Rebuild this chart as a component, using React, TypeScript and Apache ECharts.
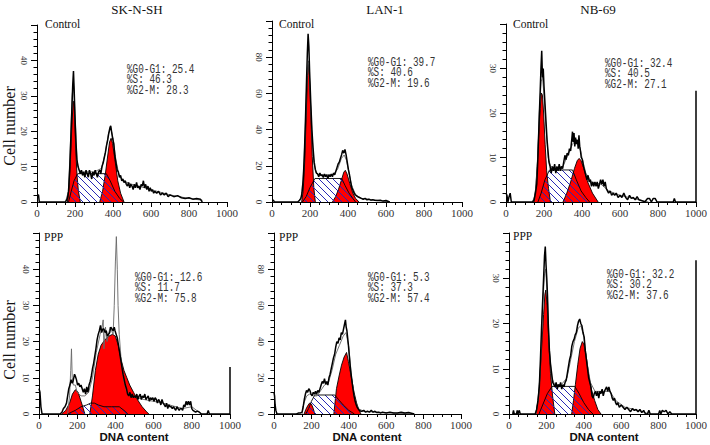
import React, { useEffect, useRef } from 'react';
import * as echarts from 'echarts';

// ---------- labels ----------
const cellLines = ['SK-N-SH', 'LAN-1', 'NB-69'];
const treatments = ['Control', 'PPP'];
const pctG0G1 = ['25.4', '39.7', '32.4', '12.6', '5.3', '32.2'];
const pctS = ['46.3', '40.6', '40.5', '11.7', '37.3', '30.2'];
const pctG2M = ['28.3', '19.6', '27.1', '75.8', '57.4', '37.6'];
const yMax = [50, 100, 40, 50, 100, 40];
const yStep = [10, 20, 10, 10, 20, 10];
const xMax = 1000;
const xStep = 200;

// ---------- panel 1: SK-N-SH control ----------
const rawP1 = [[0,2],[8,2],[12,0],[150,0],[160,1],[166,3],[172,9],[178,18],[184,27],[188,33],[192,37],[196,31],[200,24],[205,17],[210,12],[216,10],[222,9],[228,8],[234,9],[240,7.5],[246,8.5],[252,7],[258,9],[264,8],[270,7],[276,9],[282,8],[288,6.5],[294,8.5],[300,7.5],[306,9],[312,8],[318,7],[324,8.5],[330,9],[336,8],[342,10],[348,11],[354,12.5],[360,14],[366,16],[372,17.5],[378,19.5],[384,21],[388,21.5],[392,20],[398,18],[404,16.5],[410,13],[416,11],[422,9],[428,8.5],[434,7],[440,7.5],[446,6],[452,6.5],[458,5.5],[464,6],[470,5],[476,4.5],[482,5.5],[488,4],[494,5],[500,4.5],[506,3.5],[512,5],[518,4],[524,5.5],[530,4],[536,4.5],[542,3.5],[548,5],[554,4.5],[560,6],[566,4],[572,5],[578,3.5],[584,4.5],[590,3],[596,4],[602,3],[608,3.5],[614,2.5],[620,3],[630,2.5],[640,3],[650,2],[660,2.5],[670,2],[680,2.5],[690,1.5],[700,2],[720,1.5],[740,1.8],[760,1.2],[780,1],[800,1.2],[820,0.8],[840,1],[860,0.8],[870,0]];
const thinP1 = [[150,0],[165,3],[175,15],[185,30],[192,34],[200,25],[210,12],[220,9],[240,8.5],[300,8.5],[340,9.5],[360,14],[375,19],[388,21],[400,18],[415,12],[430,8],[450,6],[500,5],[600,3.5],[700,2],[800,1],[870,0.5]];
const g1P1 = [[160,0],[168,4],[176,12],[184,22],[190,28],[194,28.5],[198,24],[204,15],[210,8],[218,3],[228,0]];
const g2P1 = [[330,0],[345,3],[360,8],[372,13],[382,17],[390,18],[398,16.5],[410,12],[425,6],[440,2.5],[458,0]];
const sP1 = [[166,0],[180,3],[195,6],[214,8],[365,8],[385,6],[410,3],[435,1],[456,0]];

// ---------- panel 2: LAN-1 control ----------
const rawP2 = [[0,1],[8,1],[12,0],[135,0],[145,1],[152,2],[158,5],[164,12],[170,25],[176,45],[182,68],[186,82],[190,93],[194,86],[198,72],[204,55],[210,40],[216,30],[222,22],[228,18],[234,16],[240,15.5],[246,14],[252,16],[258,14.5],[264,15],[270,13.5],[276,15.5],[282,14],[288,15],[294,13],[300,15],[306,14],[312,15.5],[318,14],[324,16],[330,15],[336,17],[342,19],[348,21],[354,22],[360,24],[366,26],[372,28.5],[378,27],[384,29],[390,26],[396,22],[402,18],[408,15],[414,11],[420,8],[426,6.5],[432,5],[438,4],[444,3.5],[450,3],[460,2.5],[470,2],[480,1.5],[490,2],[500,1.2],[510,1.5],[520,1],[530,1.2],[540,1],[555,0.8],[570,1],[585,0.5],[600,0.8],[620,0]];
const thinP2 = [[140,0],[155,3],[165,15],[175,40],[185,72],[192,78],[200,62],[210,38],[220,22],[232,16],[250,15],[320,15],[345,18],[365,24],[380,26],[392,23],[405,16],[420,9],[440,4],[470,2],[550,1],[620,0]];
const g1P2 = [[156,0],[164,6],[172,22],[180,48],[187,70],[192,76],[197,70],[204,50],[212,25],[220,8],[228,0]];
const g2P2 = [[318,0],[335,3],[350,7],[365,12],[378,16.5],[386,17.5],[395,15.5],[410,10],[425,5],[440,2],[458,0]];
const sP2 = [[160,0],[180,3],[200,8],[226,13],[367,13],[385,9],[405,5],[425,2],[440,0]];

// ---------- panel 3: NB-69 control ----------
const rawP3 = [[0,2],[5,1.5],[10,0],[15,1],[22,2],[28,0],[140,0],[148,0.5],[155,2],[162,4],[168,10],[174,18],[180,25],[184,30],[188,34],[192,28],[196,30],[200,26],[204,23],[208,20],[212,17],[216,14],[220,12],[226,9],[232,8],[238,6.5],[244,8],[250,7],[256,8.5],[262,6.5],[268,8],[274,7],[280,8.5],[286,7],[292,8],[298,7.5],[304,9],[310,10.5],[316,9.5],[322,11],[328,10.5],[334,12],[340,11.5],[346,14],[350,15.8],[354,13.5],[358,15.5],[362,12.5],[366,14.5],[370,13],[376,14],[380,12],[384,15],[388,12.5],[392,11.5],[396,10],[402,9.5],[408,8],[414,7],[420,6],[426,5],[432,6],[438,4.5],[444,5],[450,3.5],[456,4.5],[462,3.5],[468,4.5],[474,3.5],[480,4.5],[486,3],[492,4],[498,5],[504,4],[510,5],[516,3.5],[522,4.5],[528,3],[534,2.5],[540,2],[548,2.5],[556,1.5],[564,2],[572,1.5],[580,2],[590,1],[600,1.5],[610,1],[620,2],[630,1],[640,0.5],[650,1.5],[660,0.8],[670,1],[680,0.5],[690,1.2],[700,0.5],[715,0.3],[730,0],[745,0.8],[755,0.8],[765,0],[775,0.8],[785,0.8],[795,0],[880,0],[886,0.8],[892,0],[1000,0],[1000,25]];
const thinP3 = [[140,0],[155,2],[165,8],[175,20],[185,27],[192,28],[200,24],[210,17],[222,10],[235,8],[260,7.5],[300,8],[330,11],[350,13],[370,14],[385,13],[400,10],[420,6.5],[450,4.5],[500,4],[540,2.5],[600,1.5],[700,0.5],[750,0]];
const g1P3 = [[147,0],[156,3],[164,8],[172,15],[180,21],[186,24.5],[192,24],[198,20],[206,13],[214,7],[224,3],[234,0]];
const g2P3 = [[300,0],[320,2],[340,4.5],[360,7.5],[375,9.3],[385,9.8],[395,9.3],[410,7.5],[430,4.5],[455,2],[485,0]];
const sP3 = [[168,0],[185,2],[205,5],[229,7.2],[350,7.2],[370,5],[395,2.5],[420,1],[440,0]];

// ---------- panel 4: SK-N-SH PPP ----------
const rawP4 = [[0,7],[5,6],[10,2],[16,0],[110,0],[120,0.5],[128,1.5],[136,2],[144,3],[150,5],[156,7],[162,8],[168,9.5],[174,8.5],[178,9],[182,10],[186,11],[190,10.5],[196,9.5],[202,8],[208,8.5],[214,7.5],[220,8],[226,7],[232,6],[238,7],[244,5.5],[250,7.5],[256,6],[262,8],[268,9],[274,10.5],[280,12.5],[286,14],[292,16],[298,18],[304,20.5],[310,22],[316,23],[322,24.5],[328,22.5],[334,23.5],[340,23.5],[346,22.5],[352,23],[358,21.5],[364,22],[370,22.5],[376,24],[382,23.5],[388,23],[394,24],[398,23],[404,22],[410,21],[416,19],[422,17],[428,15],[434,13],[440,11],[446,9.5],[452,8],[458,7],[464,5.5],[470,5],[476,6],[482,4.5],[488,5.5],[494,4.5],[500,5],[506,4.5],[512,5.5],[518,4],[524,5],[530,5.5],[536,4],[542,5],[548,4.5],[554,5.5],[560,4],[566,4.5],[572,5],[578,3.5],[584,4.5],[590,4],[596,4.5],[602,3.5],[608,4.5],[614,4],[620,3],[626,4],[632,3.5],[638,2.5],[644,4],[650,3],[656,2.5],[662,2],[668,3],[674,1.5],[680,2.5],[686,2],[692,2],[698,1.5],[704,2],[710,1.5],[716,1],[722,2],[728,1.5],[734,1],[740,1.5],[746,1.5],[752,1],[758,2.5],[764,2],[770,3.5],[776,2.5],[782,3.5],[788,2.5],[794,3.5],[800,1.5],[806,1],[812,0.8],[820,0.5],[830,0.8],[840,0.5],[850,0],[880,0],[886,1],[892,0],[1000,0],[1000,13]];
const thinP4 = [[150,0],[160,5],[166,12],[170,18],[174,10],[180,8],[190,8],[200,6],[220,5],[240,5],[260,6],[280,10],[300,17],[320,22],[330,24],[336,26],[340,18],[348,24],[356,20],[364,22],[372,24],[380,23],[388,22],[394,30],[400,42],[405,49],[410,40],[414,30],[420,22],[430,15],[445,9],[460,6],[480,5],[550,4],[650,3],[750,1.5],[800,2],[850,0]];
const g1P4 = [[118,0],[140,1],[160,3],[175,5.5],[190,6.7],[205,6],[220,3.5],[232,1.5],[240,0]];
const g2P4 = [[266,0],[280,5],[295,12],[310,16.5],[325,19],[345,20.5],[365,21.5],[385,22],[400,21.5],[415,19],[430,15],[445,12],[460,10],[475,8],[495,6],[515,4],[540,2],[560,0.8],[575,0]];
const sP4 = [[150,0],[190,1],[220,2],[250,2.5],[270,3],[290,3],[310,2.5],[340,2],[380,2],[420,2],[445,1],[465,0]];

// ---------- panel 5: LAN-1 PPP ----------
const rawP5 = [[0,12],[3,10],[6,5],[10,2],[16,0],[120,0],[130,0.5],[140,0.5],[150,1],[156,4],[162,8],[168,11],[174,13],[180,12],[186,14],[192,13],[198,11],[204,10],[210,12],[216,11],[222,12.5],[228,11],[234,13],[240,12],[246,14],[252,16],[258,18],[264,17],[270,19.5],[276,16.5],[282,18],[288,16],[294,20],[300,22],[306,25],[312,28],[318,31],[324,33],[330,37],[336,40],[342,39],[348,42],[354,41],[360,45],[366,44],[372,47],[378,50],[382,52],[386,48],[390,46],[394,42],[398,38],[402,33],[406,28],[410,24],[416,19],[422,14],[428,10],[434,7],[440,5],[446,3.5],[452,2.5],[458,2],[464,1.5],[470,1.5],[480,2],[490,1],[500,1.5],[510,1],[520,2],[530,1],[540,1.5],[550,0.8],[560,1],[570,0.5],[580,1],[600,0.5],[620,1],[640,0.5],[660,0.5],[680,1],[700,0.5],[720,0.8],[740,0.3],[750,0]];
const thinP5 = [[150,0],[160,6],[175,10],[190,11],[210,10],[230,10],[250,13],[270,16],[290,17],[310,24],[330,33],[350,38],[370,43],[385,45],[400,37],[415,20],[430,9],[450,3],[480,1.5],[550,1],[650,0.5],[750,0]];
const g1P5 = [[161,0],[170,2.5],[180,4.5],[190,6],[200,5.5],[210,3],[218,0]];
const g2P5 = [[320,0],[334,14],[348,21],[361,27],[375,31.5],[388,34],[398,29],[414,20],[428,12],[442,6],[455,2],[465,0]];
const sP5 = [[170,0],[185,3],[200,7],[218,10.5],[325,10.5],[345,8],[370,5],[400,2],[430,0]];

// ---------- panel 6: NB-69 PPP ----------
const rawP6 = [[20,0],[24,0.8],[28,0],[40,0],[44,0.8],[48,0],[55,0.8],[60,0],[140,0],[148,1],[155,3],[162,6],[168,12],[174,19],[180,25],[186,31],[190,35],[194,37],[198,33],[202,30],[206,26],[210,20],[216,14],[222,11],[228,9],[234,7],[240,6.5],[246,6],[252,7],[258,5.5],[264,6.5],[270,6],[276,7],[282,5.5],[288,6.5],[294,6],[300,7],[306,7.5],[312,9],[318,10.5],[324,12],[330,13],[336,15],[342,16],[348,16.5],[354,17.5],[360,18],[366,19.5],[372,20.5],[378,21],[384,20],[390,19.5],[396,18],[402,17],[408,14],[414,12],[420,10],[426,8],[432,7],[438,6],[444,4],[450,3.5],[456,4.5],[462,5],[468,4],[474,5],[480,3.5],[486,5],[492,4.5],[498,5.5],[504,4],[510,5],[516,5.5],[522,6],[528,5],[534,6],[540,5],[546,4.5],[552,3.5],[558,3],[564,3.5],[570,2.5],[576,2],[582,2.5],[590,1.5],[600,2],[610,1.5],[620,1],[630,1.5],[640,1],[650,0.5],[660,1.2],[670,0.8],[680,1],[690,0.5],[700,1],[710,0.3],[720,0.8],[730,0],[740,0],[748,0.8],[755,0],[800,0],[806,0.8],[812,0],[820,0.8],[830,0.5],[840,0.8],[850,0],[860,0.5],[870,0],[1000,0],[1000,34]];
const thinP6 = [[145,0],[160,4],[170,12],[180,24],[190,31],[196,32],[205,26],[215,15],[228,8],[245,6.5],[280,6.5],[310,8],[330,12],[350,16],[370,19],[385,19.5],[400,17],[415,12],[435,7],[460,5],[500,5],[540,5],[570,3],[620,1.5],[700,0.7],[750,0]];
const g1P6 = [[143,0],[155,3],[165,8],[175,15],[185,22],[192,26.5],[197,27.4],[204,24],[212,17],[222,9],[233,4],[245,0]];
const g2P6 = [[335,0],[345,3],[355,6.5],[368,11],[380,14.5],[392,16],[400,15.5],[412,13],[425,9],[440,5.5],[458,3],[475,1],[492,0]];
const sP6 = [[160,0],[180,2],[205,4.5],[230,6.1],[352,6.1],[375,4.5],[400,2.5],[425,1],[449,0]];

const rawAll = [rawP1, rawP2, rawP3, rawP4, rawP5, rawP6];
const thinAll = [thinP1, thinP2, thinP3, thinP4, thinP5, thinP6];
const g1All = [g1P1, g1P2, g1P3, g1P4, g1P5, g1P6];
const g2All = [g2P1, g2P2, g2P3, g2P4, g2P5, g2P6];
const sAll = [sP1, sP2, sP3, sP4, sP5, sP6];

// layout (pixels)
const grids = [
  { left: 37, top: 25, width: 190, height: 177 },
  { left: 272, top: 21, width: 190, height: 181 },
  { left: 506, top: 24, width: 192, height: 178 },
  { left: 39, top: 233, width: 191, height: 181 },
  { left: 274, top: 233, width: 187, height: 181 },
  { left: 509, top: 233, width: 191, height: 181 },
];
const statPos = [[127, 64], [368, 57], [605, 58], [135, 272], [368, 272], [607, 269]];
const condPos = [[45, 24], [279, 24], [513, 24], [44, 237], [279, 237], [513, 236]];
const titlePos = [[137, 9], [385, 9], [598, 9]];
const xTitleX = [134, 367, 604];

export default function App() {
  const ref = useRef<HTMLDivElement>(null);
  useEffect(() => {
    const chart = echarts.init(ref.current!, null, { renderer: 'svg' });
    const T = 7;
    const c = document.createElement('canvas');
    c.width = T; c.height = T;
    const ctx = c.getContext('2d')!;
    ctx.strokeStyle = '#2828b4';
    ctx.lineWidth = 1;
    for (const k of [-T, 0, T]) {
      ctx.beginPath(); ctx.moveTo(k, 0); ctx.lineTo(k + T, T); ctx.stroke();
    }
    const hatch: any = { image: c, repeat: 'repeat', imageWidth: T, imageHeight: T };

    const xAxis = grids.map((_, i) => ({
      type: 'value', gridIndex: i, min: 0, max: xMax, interval: xStep,
      axisLine: { show: true, onZero: false, lineStyle: { color: '#000', width: 1 } },
      axisTick: { show: true, length: 5, lineStyle: { color: '#000' } },
      minorTick: { show: true, splitNumber: 4, length: 3, lineStyle: { color: '#000' } },
      splitLine: { show: false },
      axisLabel: { color: '#333', fontFamily: 'Liberation Serif', fontSize: 11, margin: 5, formatter: (v: number) => String(v) },
    }));
    const yAxis = grids.map((_, i) => ({
      type: 'value', gridIndex: i, min: 0, max: yMax[i], interval: yStep[i],
      axisLine: { show: true, lineStyle: { color: '#000', width: 1 } },
      axisTick: { show: true, length: 6, lineStyle: { color: '#000' } },
      minorTick: { show: true, splitNumber: 5, length: 3.5, lineStyle: { color: '#000' } },
      splitLine: { show: false },
      axisLabel: { color: '#333', fontFamily: 'Liberation Serif', fontSize: 9, rotate: -90, margin: 9, showMaxLabel: false },
    }));

    const series: any[] = [];
    for (let i = 0; i < 6; i++) {
      const base = { type: 'line', xAxisIndex: i, yAxisIndex: i, symbol: 'none', silent: true };
      series.push({ ...base, data: g1All[i], z: 2, lineStyle: { color: '#000', width: 0.9 }, areaStyle: { color: '#ff0000', opacity: 1 } });
      series.push({ ...base, data: g2All[i], z: 2, lineStyle: { color: '#000', width: 0.9 }, areaStyle: { color: '#ff0000', opacity: 1 } });
      series.push({ ...base, data: sAll[i], z: 3, lineStyle: { color: '#000', width: 0.9 }, areaStyle: { color: hatch, opacity: 1 } });
      series.push({ ...base, data: thinAll[i], z: 4, lineStyle: { color: '#666', width: 0.9 } });
      series.push({ ...base, data: rawAll[i], z: 5, clip: false, lineStyle: { color: '#000', width: 1.5 } });
    }

    const graphic: any[] = [];
    cellLines.forEach((t, k) => {
      graphic.push({ type: 'text', x: titlePos[k][0], y: titlePos[k][1], style: { text: t, font: '13px "Liberation Serif"', fill: '#111', textAlign: 'center', textVerticalAlign: 'middle' } });
      graphic.push({ type: 'text', x: xTitleX[k], y: 437, style: { text: 'DNA content', font: 'bold 11.5px "Liberation Sans"', fill: '#111', textAlign: 'center', textVerticalAlign: 'middle' } });
    });
    [126, 340].forEach((yy) => {
      graphic.push({ type: 'text', x: 9, y: yy, rotation: Math.PI / 2, style: { text: 'Cell number', font: '16px "Liberation Serif"', fill: '#111', textAlign: 'center', textVerticalAlign: 'middle' } });
    });
    for (let i = 0; i < 6; i++) {
      graphic.push({ type: 'text', x: condPos[i][0], y: condPos[i][1], style: { text: treatments[i < 3 ? 0 : 1], font: '11.5px "Liberation Serif"', fill: '#111', textAlign: 'left', textVerticalAlign: 'middle' } });
      graphic.push({
        type: 'text', x: statPos[i][0], y: statPos[i][1], scaleX: 0.78,
        style: {
          text: `%G0-G1: ${pctG0G1[i]}\n%S: ${pctS[i]}\n%G2-M: ${pctG2M[i]}`,
          font: '12px "Liberation Mono"', lineHeight: 10.5, fill: '#333', textAlign: 'left', textVerticalAlign: 'top',
        },
      });
    }

    chart.setOption({
      animation: false,
      backgroundColor: '#fff',
      grid: grids.map((g) => ({ ...g, containLabel: false })),
      xAxis, yAxis, series, graphic,
    });
    return () => chart.dispose();
  }, []);
  return <div ref={ref} style={{ position: 'fixed', left: 0, top: 0, width: 710, height: 445, background: '#fff' }} />;
}
